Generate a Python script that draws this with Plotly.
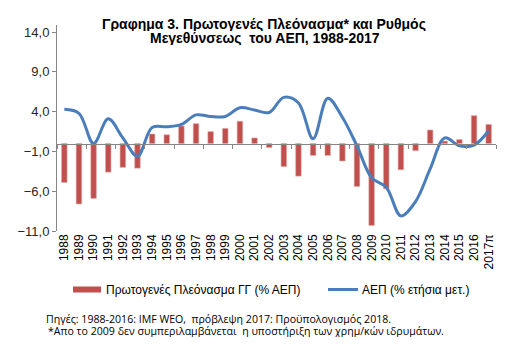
import plotly.graph_objects as go

years = ["1988", "1989", "1990", "1991", "1992", "1993", "1994", "1995", "1996", "1997",
         "1998", "1999", "2000", "2001", "2002", "2003", "2004", "2005", "2006", "2007",
         "2008", "2009", "2010", "2011", "2012", "2013", "2014", "2015", "2016", "2017π"]

primary_balance = [-4.9, -7.6, -6.9, -3.6, -3.0, -3.1, 1.2, 1.1, 2.2, 2.5,
                   1.5, 1.9, 2.8, 0.7, -0.5, -2.9, -4.1, -1.5, -1.5, -2.2,
                   -5.4, -10.3, -5.7, -3.3, -0.9, 1.7, 0.3, 0.5, 3.5, 2.4]

gdp_growth = [4.3, 3.8, 0.0, 3.1, 0.7, -1.6, 2.0, 2.1, 2.4, 3.6,
              3.4, 3.4, 4.5, 4.2, 3.9, 5.8, 5.1, 0.6, 5.7, 3.3,
              -0.3, -4.3, -5.5, -9.1, -7.3, -3.2, 0.7, -0.3, -0.2, 1.6]

y_ticks = [-11, -6, -1, 4, 9, 14]

bar_name = "Πρωτογενές Πλεόνασμα ΓΓ (% ΑΕΠ)"
line_name = "ΑΕΠ (% ετήσια μετ.)"
title_1 = "Γραφημα 3. Πρωτογενές Πλεόνασμα* και Ρυθμός"
title_2 = "Μεγεθύνσεως  του ΑΕΠ, 1988-2017"
note_1 = "Πηγές: 1988-2016: IMF WEO,  πρόβλεψη 2017: Προϋπολογισμός 2018."
note_2 = "*Απο το 2009 δεν συμπεριλαμβάνεται  η υποστήριξη των χρημ/κών ιδρυμάτων."

W, H = 527, 348
L, R, T, B = 57, 31, 25, 117
PW, PH = W - L - R, H - T - B
YMIN, YMAX = -11, 14.9

RED = "#C0504D"
BLUE = "#4A7EBB"
AXIS = "#868686"


def px(x):
    return (x - L) / PW


def py(y):
    return (H - B - y) / PH


fig = go.Figure()
fig.add_trace(go.Bar(
    x=years, y=primary_balance, name=bar_name,
    marker=dict(color=RED, line=dict(color="#E4A9A7", width=0.6)),
    showlegend=False, xaxis="x", yaxis="y",
))
fig.add_trace(go.Scatter(
    x=years, y=gdp_growth, name=line_name, mode="lines",
    line=dict(color=BLUE, width=3, shape="spline", smoothing=1.0),
    showlegend=False, xaxis="x", yaxis="y",
))
# helper trace so the zero-axis carries the category ticks
fig.add_trace(go.Scatter(
    x=years, y=[0] * len(years), mode="lines", line=dict(width=0),
    hoverinfo="skip", showlegend=False, xaxis="x2", yaxis="y",
))

zero_pos = (0 - YMIN) / (YMAX - YMIN)

fig.update_layout(
    width=W, height=H,
    margin=dict(l=L, r=R, t=T, b=B),
    paper_bgcolor="white", plot_bgcolor="white",
    separators=",.",
    bargap=0.62,
    showlegend=False,
    font=dict(family="Arial, Liberation Sans, sans-serif", color="#000000"),
    xaxis=dict(
        type="category", categoryorder="array", categoryarray=years,
        showline=False, showgrid=False, zeroline=False, ticks="",
        tickangle=-90, tickfont=dict(size=12, color="#000000"),
        range=[-0.5, len(years) - 0.5],
    ),
    xaxis2=dict(
        type="category", categoryorder="array", categoryarray=years,
        overlaying="x", matches="x", anchor="free", position=zero_pos,
        showline=True, linecolor=AXIS, linewidth=1,
        ticks="outside", tickson="boundaries", ticklen=4, tickcolor=AXIS,
        showticklabels=False, showgrid=False, zeroline=False,
    ),
    yaxis=dict(
        range=[YMIN, YMAX], tickvals=y_ticks, tickformat=".1f",
        showline=True, linecolor=AXIS, linewidth=1,
        ticks="outside", ticklen=4, tickcolor=AXIS,
        showgrid=False, zeroline=False,
        tickfont=dict(size=13, color="#262626"),
    ),
)

shapes = [
    dict(type="rect", xref="paper", yref="paper",
         x0=px(73), x1=px(101), y0=py(292.5), y1=py(286.5),
         fillcolor=RED, line=dict(width=0)),
    dict(type="line", xref="paper", yref="paper",
         x0=px(328), x1=px(358), y0=py(289.5), y1=py(289.5),
         line=dict(color=BLUE, width=3)),
]
fig.update_layout(shapes=shapes)

ann = [
    dict(text="<b>" + title_1 + "</b>", x=px(263.5), y=py(24.5)),
    dict(text="<b>" + title_2 + "</b>", x=px(264.5), y=py(38.5)),
]
for a in ann:
    fig.add_annotation(xref="paper", yref="paper", xanchor="center", yanchor="middle",
                       showarrow=False, height=14,
                       font=dict(size=14, color="#000000",
                                 family="Arial, Liberation Sans, sans-serif"),
                       **a)

fig.add_annotation(text=bar_name, xref="paper", yref="paper", x=px(104), y=py(289.5),
                   xanchor="left", yanchor="middle", showarrow=False,
                   font=dict(size=12, color="#000000"))
fig.add_annotation(text=line_name, xref="paper", yref="paper", x=px(360), y=py(289.5),
                   xanchor="left", yanchor="middle", showarrow=False,
                   font=dict(size=12, color="#000000"))

fig.add_annotation(text=note_1, xref="paper", yref="paper", x=px(44), y=py(318.5),
                   xanchor="left", yanchor="middle", showarrow=False, height=12,
                   font=dict(size=10.6, color="#000000", family="Open Sans, sans-serif"))
fig.add_annotation(text=note_2, xref="paper", yref="paper", x=px(45.5), y=py(331),
                   xanchor="left", yanchor="middle", showarrow=False, height=12,
                   font=dict(size=10.6, color="#000000", family="Open Sans, sans-serif"))

fig.write_html("out.html")
